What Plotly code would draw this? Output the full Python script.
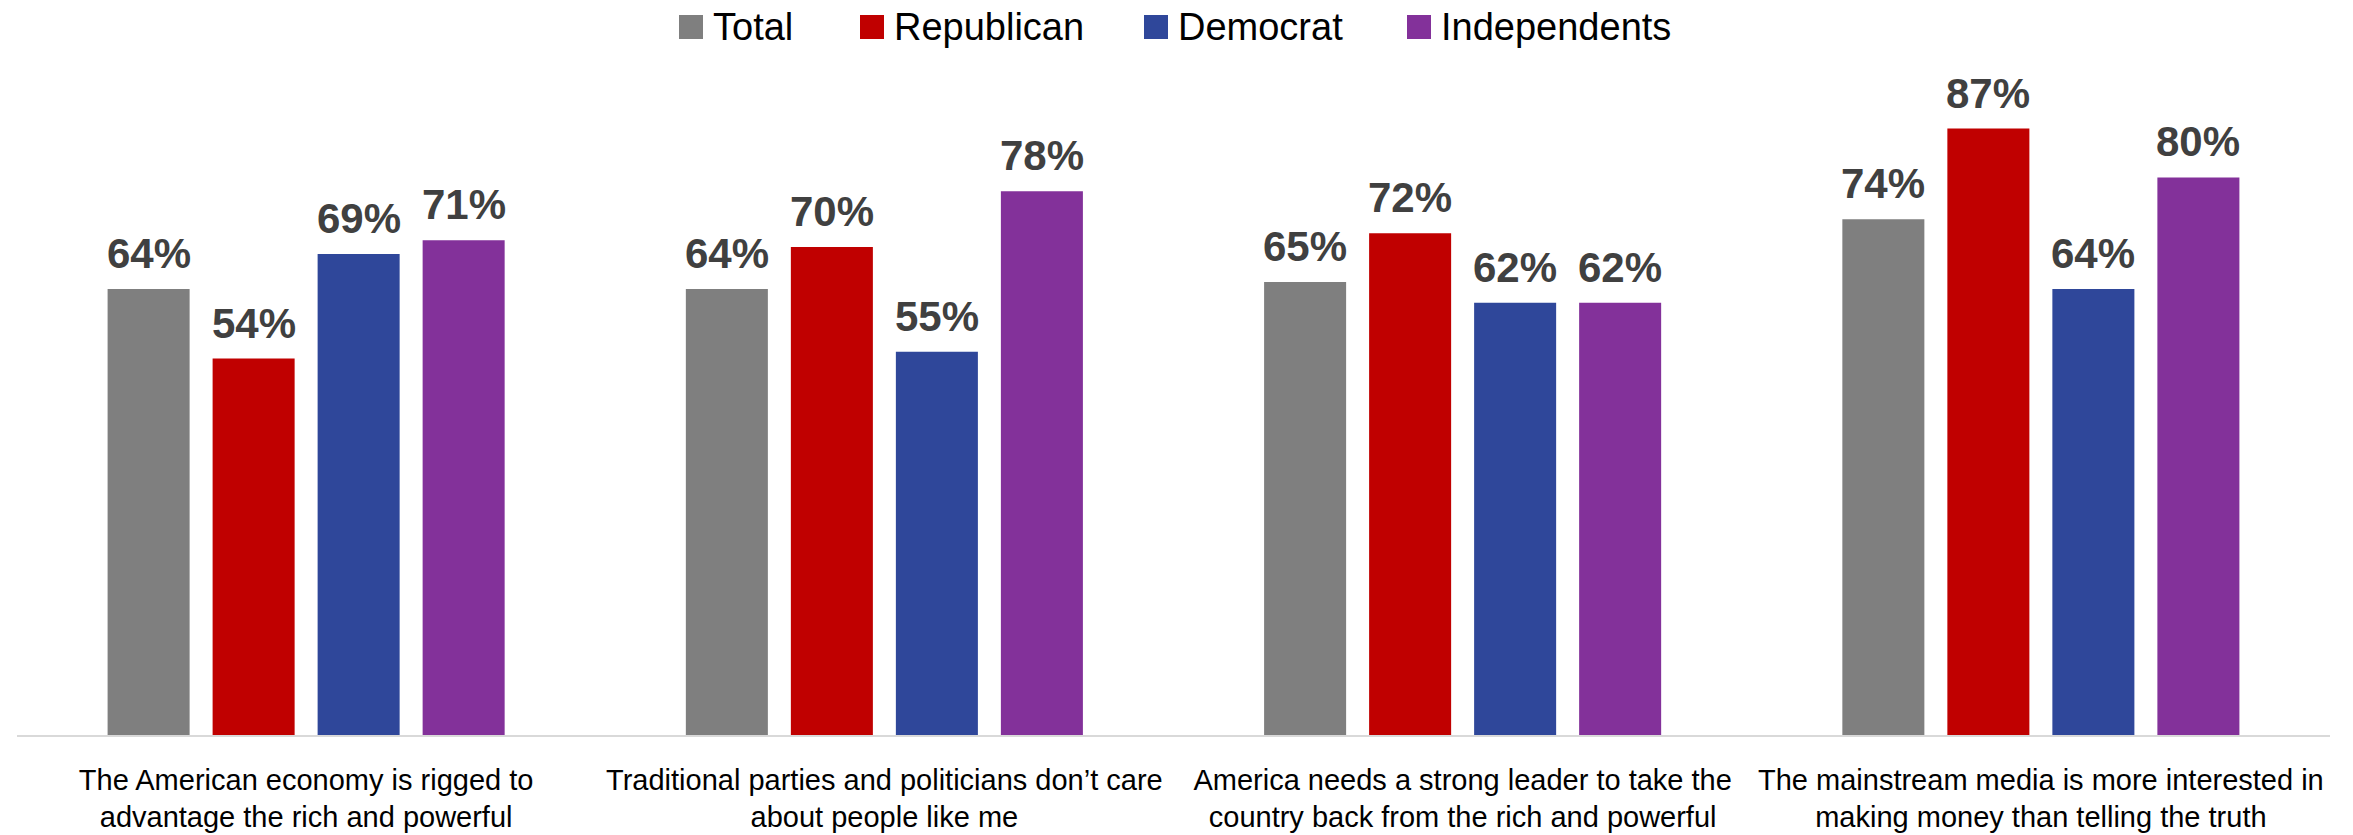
import plotly.graph_objects as go

# Survey statements (x categories) and share agreeing, by group
statements = [
    "The American economy is rigged to<br>advantage the rich and powerful",
    "Traditional parties and politicians don\u2019t care<br>about people like me",
    "America needs a strong leader to take the<br>country back from the rich and powerful",
    "The mainstream media is more interested in<br>making money than telling the truth",
]
groups = ["Total", "Republican", "Democrat", "Independents"]
total = [64, 64, 65, 74]
republican = [54, 70, 72, 87]
democrat = [69, 55, 62, 64]
independents = [71, 78, 62, 80]
colors = ["#7F7F7F", "#C00000", "#2F479A", "#83319A"]

series = [total, republican, democrat, independents]

W, H = 2353, 835
M_L, M_R, M_T, M_B = 17, 23, 38, 100
PLOT_W = W - M_L - M_R
PLOT_H = H - M_T - M_B

REGULAR = "Liberation Sans, Arial, sans-serif"

fig = go.Figure()
for name, vals, col in zip(groups, series, colors):
    fig.add_trace(go.Bar(
        x=statements, y=vals, name=name, marker_color=col,
        marker_line_width=0, showlegend=False,
    ))

# value labels above each bar
bar_pitch = 105
annotations = []
for j, vals in enumerate(series):
    for cat, v in zip(statements, vals):
        annotations.append(dict(
            x=cat, y=v, xref="x", yref="y", text=f"<b>{v}%</b>",
            showarrow=False, yanchor="bottom", xanchor="center",
            xshift=(j - 1.5) * bar_pitch, yshift=10,
            font=dict(family=REGULAR, size=42, color="#404040"),
        ))

# legend drawn as squares plus text across the top
def px_x(px):
    return (px - M_L) / PLOT_W

def px_y(py):
    return (H - M_B - py) / PLOT_H

legend_sq_left = [679, 860, 1144, 1407]
shapes = []
for name, col, left in zip(groups, colors, legend_sq_left):
    shapes.append(dict(
        type="rect", xref="paper", yref="paper",
        x0=px_x(left), x1=px_x(left + 24), y0=px_y(39), y1=px_y(15),
        fillcolor=col, line_width=0,
    ))
    annotations.append(dict(
        x=px_x(left + 32), y=px_y(27), xref="paper", yref="paper",
        text=name, showarrow=False, xanchor="left", yanchor="middle",
        font=dict(family=REGULAR, size=38, color="#000000"),
    ))

fig.update_layout(
    width=W, height=H,
    margin=dict(l=M_L, r=M_R, t=M_T, b=M_B),
    paper_bgcolor="white", plot_bgcolor="white",
    barmode="group", bargap=0.2736, bargroupgap=0.219,
    showlegend=False,
    annotations=annotations, shapes=shapes,
    xaxis=dict(
        showline=True, linecolor="#D9D9D9", linewidth=1.5,
        showgrid=False, ticks="", ticklabelstandoff=18, automargin=False,
        tickfont=dict(family=REGULAR, size=29, color="#000000"),
    ),
    yaxis=dict(range=[0, 100], visible=False, showgrid=False, zeroline=False,
               automargin=False),
)

fig.write_html("out.html")
